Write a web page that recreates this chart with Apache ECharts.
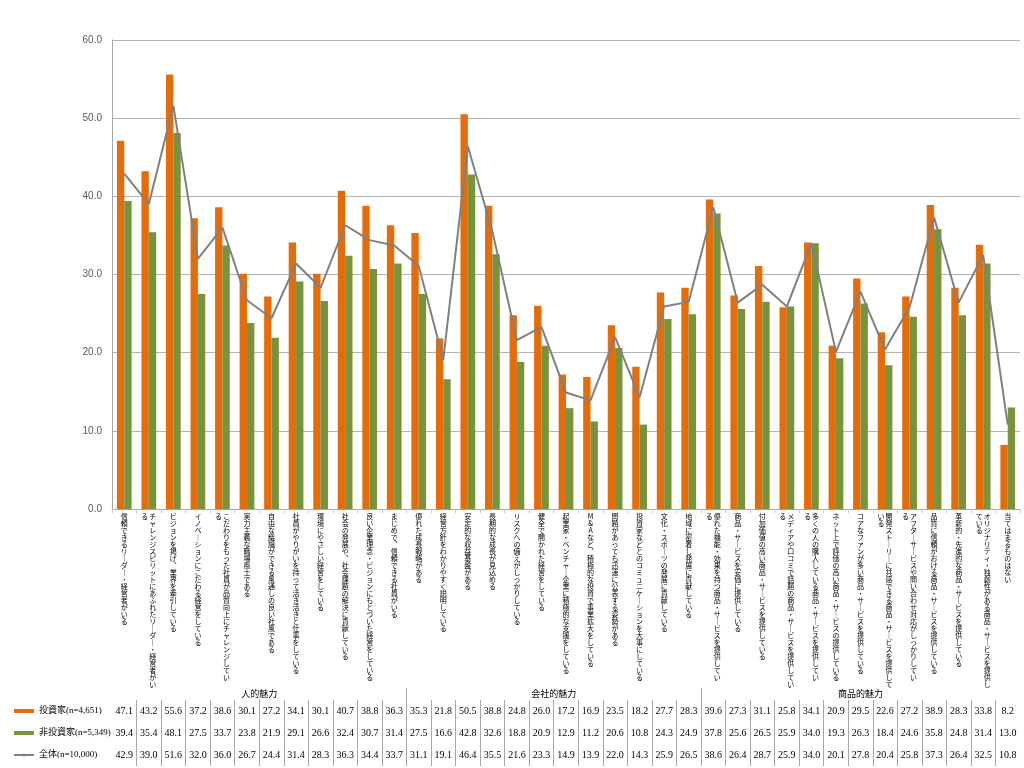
<!DOCTYPE html>
<html>
<head>
<meta charset="utf-8">
<script src="https://cdn.jsdelivr.net/npm/echarts@6/dist/echarts.min.js"></script>
<style>
html, body { margin: 0; padding: 0; background: #fff; }
#chart { width: 1024px; height: 768px; }
</style>
</head>
<body>
<div id="chart"></div>
<script>
// --- data ---
const categories = [
    '信頼できるリーダー・経営者がいる',
    'チャレンジスピリットにあふれたリーダー・経営者がいる',
    'ビジョンを掲げ、業界を牽引している',
    'イノベーションにこだわる経営をしている',
    'こだわりをもった社員が品質向上にチャレンジしている',
    '実力主義な職場風土である',
    '自由な議論ができる風通しの良い社風である',
    '社員がやりがいを持って活き活きと仕事をしている',
    '環境にやさしい経営をしている',
    '社会の発展や、社会課題の解決に貢献している',
    '良い企業理念・ビジョンにもとづいた経営をしている',
    'まじめで、信頼できる社員がいる',
    '優れた成長戦略がある',
    '経営方針をわかりやすく説明している',
    '安定的な収益基盤がある',
    '長期的な成長が見込める',
    'リスクへの備えがしっかりしている',
    '健全で開かれた経営をしている',
    '起業家・ベンチャー企業に積極的な支援をしている',
    'M&Aなど、積極的な投資で事業拡大をしている',
    '問題があっても迅速に公表する姿勢がある',
    '投資家などとのコミュニケーションを大事にしている',
    '文化・スポーツの発展に貢献している',
    '地域に密着し発展に貢献している',
    '優れた機能・効果を持つ商品・サービスを提供している',
    '商品・サービスを安価に提供している',
    '付加価値の高い商品・サービスを提供している',
    'メディアや口コミで話題の商品・サービスを提供している',
    '多くの人の購入している商品・サービスを提供している',
    'ネット上で評価の高い商品・サービスの提供している',
    'コアなファンが多い商品・サービスを提供している',
    '開発ストーリーに共感できる商品・サービスを提供している',
    'アフターサービスや問い合わせ対応がしっかりしている',
    '品質に信頼がおける商品・サービスを提供している',
    '革新的・先進的な商品・サービスを提供している',
    'オリジナリティ・独創性がある商品・サービスを提供している',
    '当てはまるものはない'
]
const investors = [47.1, 43.2, 55.6, 37.2, 38.6, 30.1, 27.2, 34.1, 30.1, 40.7, 38.8, 36.3,
    35.3, 21.8, 50.5, 38.8, 24.8, 26.0, 17.2, 16.9, 23.5, 18.2, 27.7, 28.3,
    39.6, 27.3, 31.1, 25.8, 34.1, 20.9, 29.5, 22.6, 27.2, 38.9, 28.3, 33.8, 8.2]
const nonInvestors = [39.4, 35.4, 48.1, 27.5, 33.7, 23.8, 21.9, 29.1, 26.6, 32.4, 30.7, 31.4,
    27.5, 16.6, 42.8, 32.6, 18.8, 20.9, 12.9, 11.2, 20.6, 10.8, 24.3, 24.9,
    37.8, 25.6, 26.5, 25.9, 34.0, 19.3, 26.3, 18.4, 24.6, 35.8, 24.8, 31.4, 13.0]
const total = [42.9, 39.0, 51.6, 32.0, 36.0, 26.7, 24.4, 31.4, 28.3, 36.3, 34.4, 33.7,
    31.1, 19.1, 46.4, 35.5, 21.6, 23.3, 14.9, 13.9, 22.0, 14.3, 25.9, 26.5,
    38.6, 26.4, 28.7, 25.9, 34.0, 20.1, 27.8, 20.4, 25.8, 37.3, 26.4, 32.5, 10.8]
const seriesNames = ['投資家(n=4,651)', '非投資家(n=5,349)', '全体(n=10,000)']
const groupNames = ['人的魅力', '会社的魅力', '商品的魅力']
const groupSizes = [12, 12, 13]
const yMin = 0, yMax = 60, yStep = 10

// --- helpers ---
const N = categories.length
const JP = "'Noto Sans CJK JP', sans-serif"
const SERIF = "'Liberation Serif', 'Noto Sans CJK JP', serif"
const ROW = 22

// stack characters to imitate vertical writing; long labels wrap into a second column on the left
function toVertical (s) {
    const chars = Array.from(s.replace(/ー/g, '｜').replace(/、/g, '︑'))
    const n = chars.length
    const cut = n <= 24 ? n : (n >= 26 ? 25 : 24)
    const first = chars.slice(0, cut)
    const rest = chars.slice(cut)
    return first.map((c, i) => {
        let line = ''
        if (rest.length) line += '{c|' + (rest[i] || '　') + '}'
        return line + '{c|' + c + '}'
    }).join('\n')
}

const groupCenters = []
const groupBounds = []
let acc = 0
groupSizes.forEach((g, i) => {
    groupCenters.push(acc + g / 2)
    acc += g
    if (i < groupSizes.length - 1) groupBounds.push(acc)
})
const innerBounds = categories.slice(1).map((_, i) => i + 1)
const cellCenters = categories.map((_, i) => i + 0.5)

const tableAxis = (arr, k) => ({
    type: 'value',
    min: 0,
    max: N,
    position: 'bottom',
    offset: 191 + ROW * k,
    axisLine: { show: false },
    splitLine: { show: false },
    axisTick: { show: true, customValues: innerBounds, length: ROW, lineStyle: { color: '#a6a6a6' } },
    axisLabel: {
        customValues: cellCenters,
        formatter: v => arr[Math.floor(v)].toFixed(1),
        fontFamily: SERIF,
        fontSize: 10,
        lineHeight: ROW,
        color: '#000',
        margin: 0,
        verticalAlign: 'top'
    }
})

const chart = echarts.init(document.getElementById('chart'))
const option = {
    animation: false,
    backgroundColor: '#fff',
    grid: { left: 112, right: 4, top: 40, bottom: 259, containLabel: false },
    legend: {
        orient: 'vertical',
        left: 13,
        top: 700,
        padding: 0,
        itemGap: 0,
        itemWidth: 20,
        itemHeight: 4,
        textStyle: { fontFamily: SERIF, fontSize: 9, lineHeight: ROW, color: '#000' },
        data: [
            { name: seriesNames[0], icon: 'rect' },
            { name: seriesNames[1], icon: 'rect' },
            { name: seriesNames[2] }
        ]
    },
    xAxis: [
        {
            type: 'category',
            data: categories,
            axisLine: { lineStyle: { color: '#a6a6a6' } },
            axisTick: { show: true, interval: 0, length: 4, lineStyle: { color: '#c8c8c8' } },
            axisLabel: {
                interval: 0,
                margin: 4,
                verticalAlign: 'top',
                formatter: toVertical,
                rich: {
                    c: { width: 8, align: 'center', fontSize: 7, lineHeight: 7, fontFamily: JP, color: '#000' }
                }
            }
        },
        {
            type: 'value',
            min: 0,
            max: N,
            position: 'bottom',
            offset: 179,
            axisLine: { show: false },
            splitLine: { show: false },
            axisTick: { show: true, customValues: groupBounds, length: 78, lineStyle: { color: '#a6a6a6' } },
            axisLabel: {
                customValues: groupCenters,
                formatter: v => groupNames[groupCenters.indexOf(v)],
                fontFamily: SERIF,
                fontSize: 9,
                lineHeight: 12,
                color: '#000',
                margin: 1,
                verticalAlign: 'top'
            }
        },
        tableAxis(investors, 0),
        tableAxis(nonInvestors, 1),
        tableAxis(total, 2)
    ],
    yAxis: {
        type: 'value',
        min: yMin,
        max: yMax,
        interval: yStep,
        axisLine: { show: true, lineStyle: { color: '#a6a6a6' } },
        axisTick: { show: false },
        splitLine: { lineStyle: { color: '#b4b4b4' } },
        axisLabel: {
            formatter: v => v.toFixed(1),
            fontFamily: "'Liberation Sans', sans-serif",
            fontSize: 10,
            color: '#595959',
            margin: 10
        }
    },
    series: [
        {
            name: seriesNames[0],
            type: 'bar',
            data: investors,
            barWidth: '30%',
            barGap: '0%',
            itemStyle: { color: '#e46c0a' }
        },
        {
            name: seriesNames[1],
            type: 'bar',
            data: nonInvestors,
            barWidth: '30%',
            barGap: '0%',
            itemStyle: { color: '#77933c' }
        },
        {
            name: seriesNames[2],
            type: 'line',
            data: total,
            symbol: 'none',
            z: 5,
            itemStyle: { color: '#808080' },
            lineStyle: { color: '#808080', width: 2 }
        }
    ]
}
chart.setOption(option)
</script>
</body>
</html>
